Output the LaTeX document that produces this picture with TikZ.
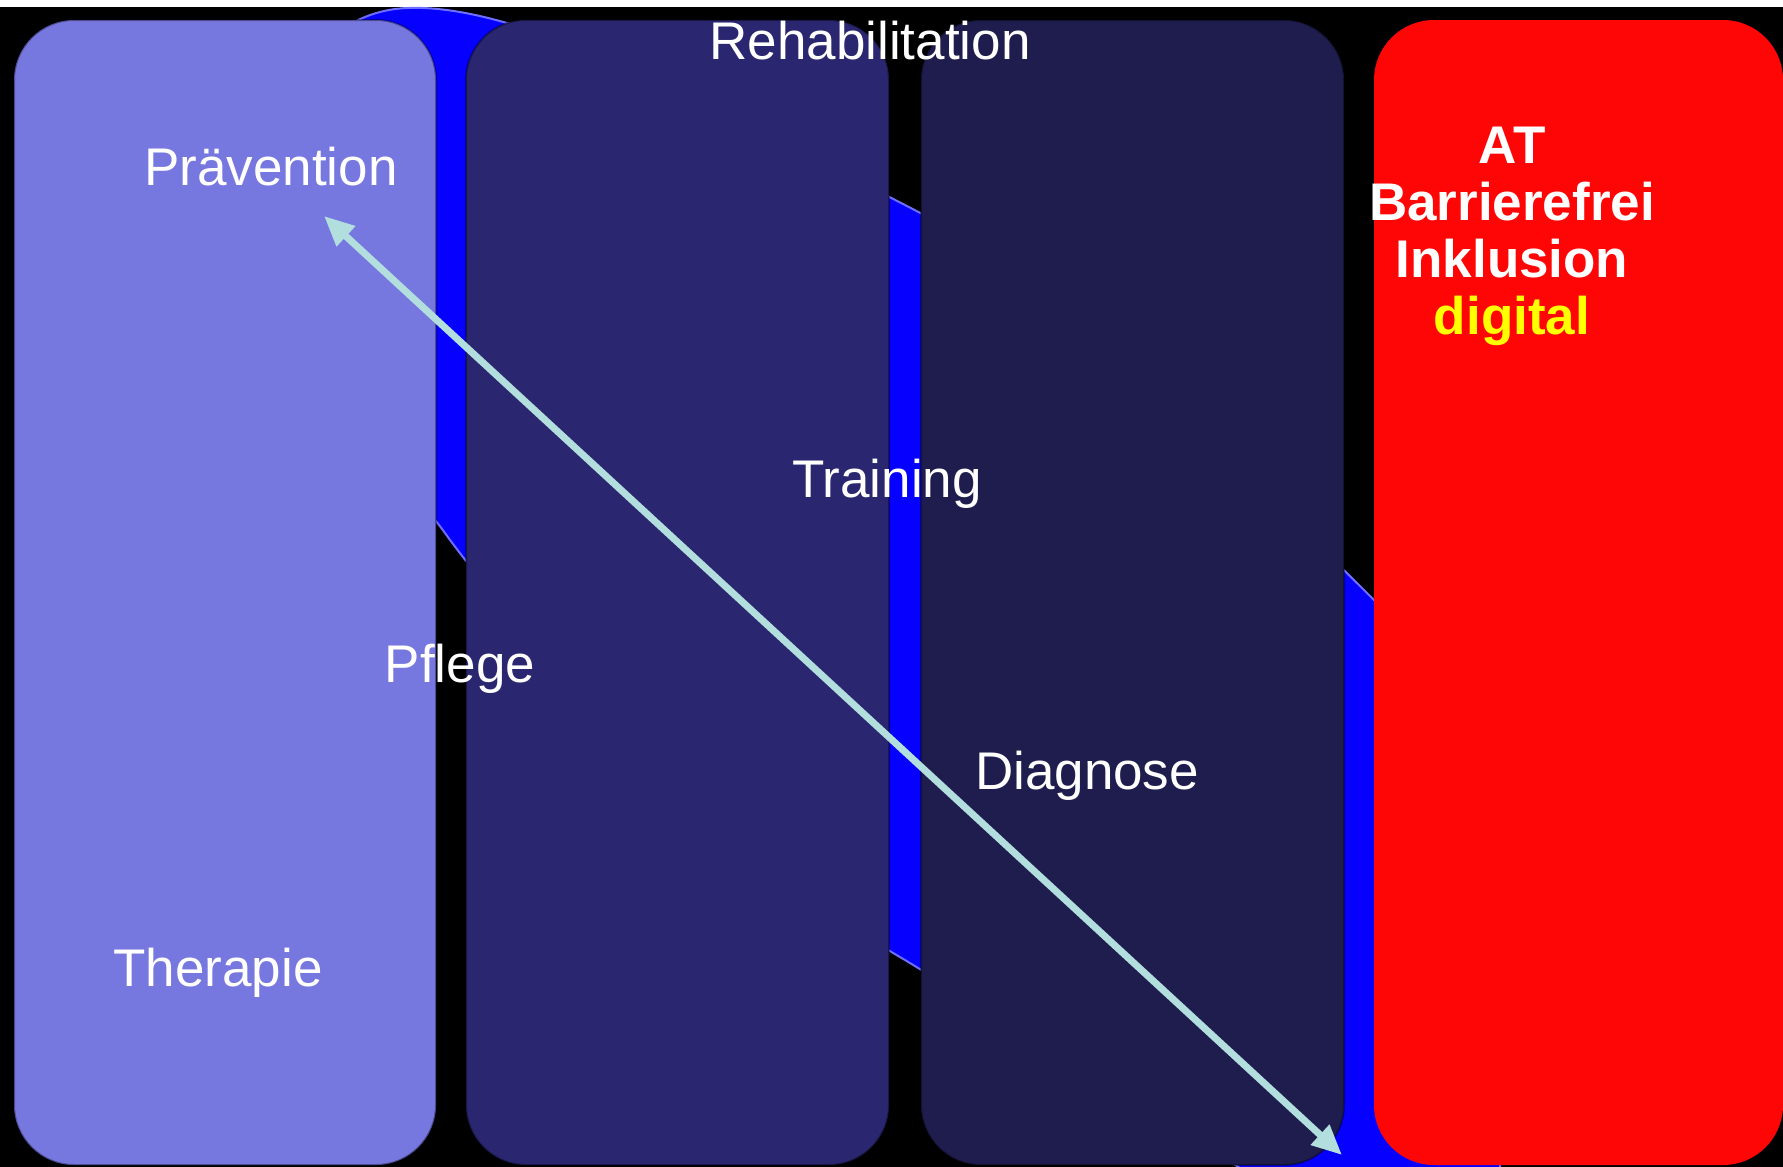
\documentclass[tikz,border=0pt]{standalone}
\usepackage{fontspec}
\setmainfont{Liberation Sans}
\usetikzlibrary{arrows.meta, positioning}

\definecolor{colPrev}{RGB}{119,119,224}
\definecolor{colPfl}{RGB}{42,38,112}
\definecolor{colDia}{RGB}{31,29,78}
\definecolor{colAT}{RGB}{255,6,6}
\definecolor{bandBlue}{RGB}{6,0,255}
\definecolor{bandEdge}{RGB}{110,110,255}
\definecolor{arrCyan}{RGB}{178,222,222}
\definecolor{atYellow}{RGB}{255,255,0}

\tikzset{
  pillar/.style={rounded corners=60pt},
  lbl/.style={text=white, font=\fontsize{53}{60}\selectfont, inner sep=0pt, anchor=base},
  atlbl/.style={text=white, font=\bfseries\fontsize{53}{58}\selectfont, inner sep=0pt, anchor=base},
  biarrow/.style={draw=arrCyan, line width=7pt,
    {Triangle[length=30pt,width=26pt]}-{Triangle[length=30pt,width=26pt]}},
}

\begin{document}
\begin{tikzpicture}[x=1pt, y=-1pt]
\useasboundingbox (0,0) rectangle (1783,1167);

% ========== background ==========
\fill[white] (0,0) rectangle (1783,1167);
\fill[black] (0,7) rectangle (1783,1167);

% ========== blue swoosh behind the pillars ==========
\fill[bandBlue, draw=bandEdge, line width=2pt]
  (250,350) .. controls (230,150) and (300,10) .. (409,8)
  .. controls (520,4) and (700,100) .. (905,205)
  .. controls (1120,315) and (1280,520) .. (1500,720)
  -- (1500,1200) -- (1290,1200)
  .. controls (1150,1110) and (1020,1030) .. (905,960)
  .. controls (750,870) and (570,700) .. (450,540)
  .. controls (380,440) and (290,400) .. (250,350) -- cycle;

% ========== pillars ==========
\foreach \xa/\xb/\c in {14/436/colPrev, 466/889/colPfl, 921/1344/colDia} {
  \fill[pillar, \c] (\xa,20) rectangle (\xb,1165);
  \draw[pillar, black, opacity=0.35, line width=2pt] (\xa,20) rectangle (\xb,1165);
}
\fill[pillar, colAT] (1374,20) rectangle (1783,1165);

% ========== labels ==========
\node[lbl] (reha) at (870,59) {Rehabilitation};
\node[lbl] (prae) at (271,185) {Prävention};
\node[lbl] (train) at (887,497) {Training};
\node[lbl] (pfl) at (460,682) {Pflege};
\node[lbl] (diag) at (1087,789) {Diagnose};
\node[lbl] (ther) at (218,986) {Therapie};

% red pillar text
\node[atlbl] (at) at (1512,163) {AT};
\node[atlbl] (barr) at ([yshift=-57pt]at.base) {Barrierefrei};
\node[atlbl] (inkl) at ([yshift=-57pt]barr.base) {Inklusion};
\node[atlbl, text=atYellow] (digi) at ([yshift=-57pt]inkl.base) {digital};

% ========== double arrow ==========
\coordinate (arrTop) at (324,216);
\coordinate (arrBot) at (1342,1155);
\draw[biarrow] (arrTop) -- (arrBot);

\end{tikzpicture}
\end{document}
